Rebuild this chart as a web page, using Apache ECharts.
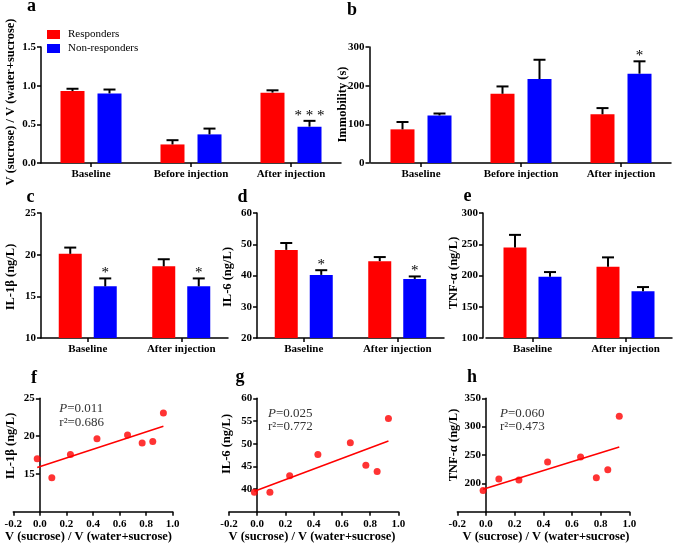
<!DOCTYPE html>
<html>
<head>
<meta charset="utf-8">
<script src="https://cdn.jsdelivr.net/npm/echarts@6/dist/echarts.min.js"></script>
<style>html,body{margin:0;padding:0;background:#fff;}#c{width:675px;height:546px;}</style>
</head>
<body>
<div id="c"></div>
<script>
// ---------- data ----------
const cats3 = ['Baseline', 'Before injection', 'After injection'];
const cats2 = ['Baseline', 'After injection'];

// a: sucrose preference
const sucRespMean = [0.93, 0.24, 0.91];
const sucRespSem = [0.03, 0.055, 0.03];
const sucNonMean = [0.90, 0.37, 0.47];
const sucNonSem = [0.05, 0.075, 0.075];
const sucNonSig = ['', '', '* * *'];
// b: immobility
const immRespMean = [87, 179, 126];
const immRespSem = [19, 19, 16];
const immNonMean = [123, 217, 231];
const immNonSem = [5, 50, 32];
const immNonSig = ['', '', '*'];
// c: IL-1b
const il1bRespMean = [20.1, 18.6];
const il1bRespSem = [0.75, 0.85];
const il1bNonMean = [16.2, 16.2];
const il1bNonSem = [0.95, 0.95];
const il1bNonSig = ['*', '*'];
// d: IL-6
const il6RespMean = [48.2, 44.6];
const il6RespSem = [2.2, 1.3];
const il6NonMean = [40.2, 38.9];
const il6NonSem = [1.5, 0.8];
const il6NonSig = ['*', '*'];
// e: TNF-a
const tnfRespMean = [245, 214];
const tnfRespSem = [20, 15];
const tnfNonMean = [198, 175];
const tnfNonSem = [7.5, 6.5];
const tnfNonSig = ['', ''];

// f,g,h: correlations
const sucroseX = [-0.02, 0.09, 0.23, 0.43, 0.66, 0.77, 0.85, 0.93];
const il1bY = [17.0, 14.5, 17.55, 19.65, 20.15, 19.1, 19.3, 23.05];
const il6Y = [39.3, 39.3, 42.9, 47.6, 50.2, 45.25, 43.85, 55.55];
const tnfY = [187.5, 207.5, 206, 237.5, 246.5, 210, 224, 318.5];
const fitX = [-0.02, 0.93];
const il1bFit = [15.85, 21.3];
const il6Fit = [39.5, 50.6];
const tnfFit = [189.5, 264];

// ---------- style ----------
const FONT = '"Liberation Serif", "Times New Roman", serif';
const RED = '#ff0000', BLUE = '#0000ff';

const grids = [
  {left: 41, top: 47, width: 300, height: 116},
  {left: 371, top: 47, width: 300, height: 116},
  {left: 41, top: 213, width: 187, height: 125},
  {left: 257, top: 213, width: 187, height: 125},
  {left: 486, top: 213, width: 186, height: 125},
  {left: 13.3, top: 398.3, width: 159.4, height: 113.4},
  {left: 229, top: 398.3, width: 169.3, height: 113.4},
  {left: 457.3, top: 398.3, width: 172, height: 113.4}
];

const axLine = {show: true, lineStyle: {color: '#000', width: 1.5}};
const axTick = {show: true, length: 4, lineStyle: {color: '#000', width: 1.5}};
const lab = {color: '#000', fontFamily: FONT, fontWeight: 'bold', fontSize: 11};

const xAxes = [], yAxes = [], series = [];

function barPanel(gi, cats, yMin, yMax, yInt, dec, yOff, bw, gapPx, resp, respSem, non, nonSem, nonSig) {
  xAxes.push({gridIndex: gi, type: 'category', data: cats,
    axisLine: {show: true, onZero: false, lineStyle: axLine.lineStyle},
    axisTick: Object.assign({alignWithLabel: true}, axTick),
    axisLabel: Object.assign({margin: 6, interval: 0}, lab), splitLine: {show: false}});
  yAxes.push({gridIndex: gi, type: 'value', min: yMin, max: yMax, interval: yInt, offset: yOff,
    axisLine: axLine, axisTick: axTick,
    axisLabel: Object.assign({margin: 5, formatter: v => v.toFixed(dec)}, lab),
    splitLine: {show: false}});
  const gap = (gapPx / bw * 100).toFixed(1) + '%';
  series.push({type: 'bar', name: 'Responders', xAxisIndex: gi, yAxisIndex: gi, data: resp,
    barWidth: bw, barGap: gap, itemStyle: {color: RED}, z: 2});
  series.push({type: 'bar', name: 'Non-responders', xAxisIndex: gi, yAxisIndex: gi, data: non,
    barWidth: bw, barGap: gap, itemStyle: {color: BLUE}, z: 2});
  [[resp, respSem, null, -1], [non, nonSem, nonSig, 1]].forEach(([m, s, sig, side]) => {
    series.push({type: 'custom', name: 'err' + gi + side, xAxisIndex: gi, yAxisIndex: gi, z: 5,
      encode: {x: 0, y: [1, 2]},
      data: m.map((v, i) => [i, v, v + s[i]]),
      renderItem: function (params, api) {
        const p0 = api.coord([api.value(0), api.value(1)]);
        const p1 = api.coord([api.value(0), api.value(2)]);
        const x = p0[0] + side * (bw + gapPx) / 2;
        const st = {stroke: '#000', lineWidth: 2};
        const ch = [
          {type: 'line', shape: {x1: x, y1: p0[1], x2: x, y2: p1[1]}, style: st},
          {type: 'line', shape: {x1: x - 6, y1: p1[1], x2: x + 6, y2: p1[1]}, style: st}
        ];
        const t = sig ? sig[params.dataIndex] : '';
        if (t) ch.push({type: 'text', x: x, y: p1[1] - 5,
          style: {text: t, fill: '#000', font: '15px ' + FONT, align: 'center', verticalAlign: 'middle',
                  textAlign: 'center', textVerticalAlign: 'middle'}});
        return {type: 'group', children: ch};
      }});
  });
}

function scatterPanel(gi, yMin, yMax, yInt, ys, fit) {
  const xMin = -0.2, xMax = 1.0;
  // y axis sits at x = 0: shift it right by the pixel distance from xMin to 0
  const shift = grids[gi].width * (0 - xMin) / (xMax - xMin);
  xAxes.push({gridIndex: gi, type: 'value', min: xMin, max: xMax, interval: 0.2,
    axisLine: {show: true, onZero: false, lineStyle: axLine.lineStyle}, axisTick: axTick,
    axisLabel: Object.assign({margin: 7, formatter: v => (Math.abs(v) < 1e-9 ? 0 : v).toFixed(1)}, lab),
    splitLine: {show: false}});
  yAxes.push({gridIndex: gi, type: 'value', min: yMin, max: yMax, interval: yInt, offset: -shift,
    axisLine: {show: true, onZero: false, lineStyle: axLine.lineStyle}, axisTick: axTick,
    axisLabel: Object.assign({margin: 5, showMinLabel: false}, lab),
    splitLine: {show: false}});
  series.push({type: 'scatter', name: 'pts' + gi, xAxisIndex: gi, yAxisIndex: gi,
    data: sucroseX.map((x, i) => [x, ys[i]]), symbolSize: 7, itemStyle: {color: RED}, z: 4});
  series.push({type: 'line', name: 'fit' + gi, xAxisIndex: gi, yAxisIndex: gi,
    data: fitX.map((x, i) => [x, fit[i]]), showSymbol: false, symbol: 'none',
    lineStyle: {color: RED, width: 1.5}, z: 3});
}

barPanel(0, cats3, 0, 1.5, 0.5, 1, 0, 24, 13, sucRespMean, sucRespSem, sucNonMean, sucNonSem, sucNonSig);
barPanel(1, cats3, 0, 300, 100, 0, 1.5, 24, 13, immRespMean, immRespSem, immNonMean, immNonSem, immNonSig);
barPanel(2, cats2, 10, 25, 5, 0, 0, 23, 12, il1bRespMean, il1bRespSem, il1bNonMean, il1bNonSem, il1bNonSig);
barPanel(3, cats2, 20, 60, 10, 0, 0, 23, 12, il6RespMean, il6RespSem, il6NonMean, il6NonSem, il6NonSig);
barPanel(4, cats2, 100, 300, 50, 0, 3, 23, 12, tnfRespMean, tnfRespSem, tnfNonMean, tnfNonSem, tnfNonSig);
scatterPanel(5, 10, 25, 5, il1bY, il1bFit);
scatterPanel(6, 35, 60, 5, il6Y, il6Fit);
scatterPanel(7, 150, 350, 50, tnfY, tnfFit);

// ---------- texts ----------
function txt(text, x, y, size, opts) {
  opts = opts || {};
  return {type: 'text', x: x, y: y, rotation: opts.rot || 0, z: 10,
    style: Object.assign({text: text, fill: opts.fill || '#000',
      font: (opts.italic ? 'italic ' : '') + (opts.bold === false ? 'normal ' : 'bold ') + size + 'px ' + FONT,
      fontSize: size, fontFamily: FONT, fontWeight: opts.bold === false ? 'normal' : 'bold',
      align: opts.align || 'center', verticalAlign: 'middle',
      textAlign: opts.align || 'center', textVerticalAlign: 'middle'}, opts.extra || {})};
}
const V = Math.PI / 2;
const yTitleSucrose = 'V (sucrose) / V (water+sucrose)';
const graphics = [
  txt('a', 31.5, 6.5, 18), txt('b', 352, 10.5, 18), txt('c', 30.5, 197, 18), txt('d', 242.5, 197, 18),
  txt('e', 467.5, 196, 18), txt('f', 34, 378, 18), txt('g', 240, 377, 18), txt('h', 472, 377, 18),
  txt(yTitleSucrose, 11, 102, 12.5, {rot: V}),
  txt('Immobility (s)', 343, 104.5, 12.5, {rot: V}),
  txt('IL-1β (ng/L)', 11, 277, 12.5, {rot: V}),
  txt('IL-6 (ng/L)', 228, 277, 12.5, {rot: V}),
  txt('TNF-α (ng/L)', 454, 273, 12.5, {rot: V}),
  txt('IL-1β (ng/L)', 11, 446, 12.5, {rot: V}),
  txt('IL-6 (ng/L)', 227, 444, 12.5, {rot: V}),
  txt('TNF-α (ng/L)', 454, 445, 12.5, {rot: V}),
  txt(yTitleSucrose, 88.5, 537, 12.5),
  txt(yTitleSucrose, 312, 537, 12.5),
  txt(yTitleSucrose, 546, 537, 12.5)
];
const pTexts = [
  ['0.011', '0.686', 59.3, 409, 423],
  ['0.025', '0.772', 268, 414, 427],
  ['0.060', '0.473', 500, 414, 427]
];
pTexts.forEach(([p, r, x, y1, y2]) => {
  graphics.push(txt('{i|P}=' + p, x, y1, 13, {bold: false, align: 'left', fill: '#333',
    extra: {rich: {i: {fontStyle: 'italic', fontFamily: FONT, fontSize: 13, fill: '#333', color: '#333'}}}}));
  graphics.push(txt('r²=' + r, x, y2, 13, {bold: false, align: 'left', fill: '#333'}));
});

const chart = echarts.init(document.getElementById('c'), null, {renderer: 'canvas'});
chart.setOption({
  animation: false,
  backgroundColor: '#fff',
  textStyle: {fontFamily: FONT},
  grid: grids.map(g => Object.assign({containLabel: false}, g)),
  xAxis: xAxes,
  yAxis: yAxes,
  legend: {data: [{name: 'Responders', icon: 'rect'}, {name: 'Non-responders', icon: 'rect'}],
    orient: 'vertical', left: 47, top: 29, itemWidth: 13, itemHeight: 9, itemGap: 3,
    selectedMode: false, padding: 0,
    textStyle: {fontFamily: FONT, fontSize: 11, color: '#000', padding: [0, 0, 0, 3]}},
  graphic: graphics,
  series: series
});
</script>
</body>
</html>
